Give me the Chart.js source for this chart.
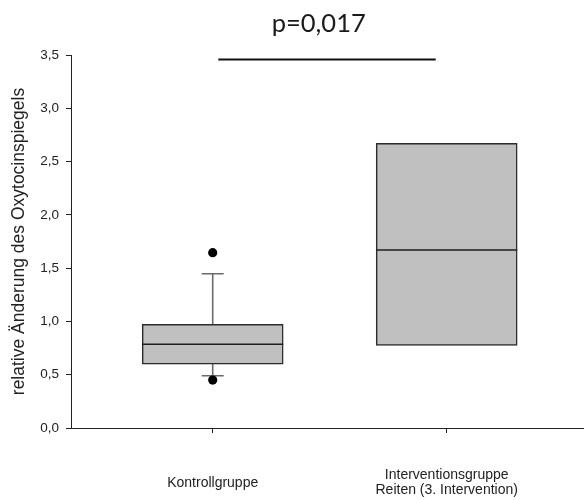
<!DOCTYPE html>
<html lang="de">
<head>
<meta charset="utf-8">
<title>Relative Änderung des Oxytocinspiegels</title>
<script src="https://cdn.jsdelivr.net/npm/chart.js@4/dist/chart.umd.min.js"></script>
<style>
  html, body { margin: 0; padding: 0; background: #ffffff; }
  #wrap { width: 584px; height: 500px; }
</style>
</head>
<body>
<div id="wrap"><canvas id="c" width="584" height="500"></canvas></div>
<script>
// Groups on the x axis (one entry per box, multi-line labels as arrays)
const groups = ['Kontrollgruppe', ['Interventionsgruppe', 'Reiten (3. Intervention)']];
const groupPositions = [1, 2];

// Box plot statistics per group
const lowerQuartile = [0.60, 0.776];
const medianValue   = [0.785, 1.67];
const upperQuartile = [0.973, 2.671];
const whiskerLow    = [0.49, null];
const whiskerHigh   = [1.448, null];
const outlierValues = [[0.45, 1.645], []];

// Y axis ticks
const yTicks = [0, 0.5, 1.0, 1.5, 2.0, 2.5, 3.0, 3.5];

// Significance bracket between the two groups
const sigFrom = 1.024;
const sigTo = 1.953;
const sigLevel = 3.458;
const sigLabelX = 1.453;
const pLabel = 'p=0,017';

const boxData = groupPositions.map((pos, i) => ({ x: pos, y: [lowerQuartile[i], upperQuartile[i]] }));
const outlierData = [];
outlierValues.forEach((vals, i) => vals.forEach(v => outlierData.push({ x: groupPositions[i], y: v })));
const sigData = [{ x: sigFrom, y: sigLevel }, { x: sigTo, y: sigLevel }];

const fmt = v => v.toFixed(1).replace('.', ',');

// Whiskers, caps, medians and the p-value text
const boxDecor = {
  id: 'boxDecor',
  beforeDatasetsDraw(chart) {
    const { ctx, scales: { x, y } } = chart;
    ctx.save();
    ctx.strokeStyle = '#6b6b6b';
    ctx.lineWidth = 1.6;
    groupPositions.forEach((pos, i) => {
      const px = x.getPixelForValue(pos);
      [[whiskerLow[i], lowerQuartile[i]], [whiskerHigh[i], upperQuartile[i]]].forEach(([w, edge]) => {
        if (w === null) return;
        const wy = y.getPixelForValue(w);
        const ey = y.getPixelForValue(edge);
        ctx.beginPath();
        ctx.moveTo(px, ey);
        ctx.lineTo(px, wy);
        ctx.moveTo(px - 11, wy);
        ctx.lineTo(px + 11, wy);
        ctx.stroke();
      });
    });
    ctx.restore();
  },
  afterDatasetsDraw(chart) {
    const { ctx, scales: { x, y } } = chart;
    const bars = chart.getDatasetMeta(0).data;
    ctx.save();
    ctx.strokeStyle = '#1e1e1e';
    ctx.lineWidth = 1.5;
    groupPositions.forEach((pos, i) => {
      const el = bars[i];
      const my = y.getPixelForValue(medianValue[i]);
      ctx.beginPath();
      ctx.moveTo(el.x - el.width / 2, my);
      ctx.lineTo(el.x + el.width / 2, my);
      ctx.stroke();
    });
    ctx.fillStyle = '#1a1a1a';
    ctx.font = '25.5px Lato, "Open Sans", sans-serif';
    ctx.textAlign = 'center';
    ctx.textBaseline = 'alphabetic';
    ctx.fillText(pLabel, x.getPixelForValue(sigLabelX), y.getPixelForValue(sigLevel) - 27.5);
    ctx.restore();
  }
};

new Chart(document.getElementById('c'), {
  type: 'bar',
  data: {
    datasets: [
      {
        type: 'bar',
        data: boxData,
        backgroundColor: '#c0c0c0',
        borderColor: '#2b2b2b',
        borderWidth: 1.5,
        borderSkipped: false,
        barThickness: 141,
        grouped: false,
        order: 3
      },
      {
        type: 'scatter',
        data: outlierData,
        backgroundColor: '#000000',
        borderWidth: 0,
        pointRadius: 4.6,
        order: 1
      },
      {
        type: 'line',
        data: sigData,
        borderColor: '#111111',
        borderWidth: 2,
        pointRadius: 0,
        fill: false,
        order: 2
      }
    ]
  },
  options: {
    responsive: false,
    devicePixelRatio: 1,
    animation: false,
    events: [],
    layout: { autoPadding: false, padding: { top: 55, right: 0, bottom: 0, left: 0 } },
    plugins: { legend: { display: false }, tooltip: { enabled: false }, title: { display: false } },
    scales: {
      x: {
        type: 'linear',
        offset: false,
        min: 0.39444,
        max: 2.58675,
        afterBuildTicks: scale => { scale.ticks = groupPositions.map(v => ({ value: v })); },
        afterFit: scale => {
          scale.height = 72;
          scale.paddingLeft = 0;
          scale.paddingRight = 0;
        },
        grid: { display: true, offset: false, drawOnChartArea: false, drawTicks: true, tickLength: 5, color: '#222222', lineWidth: 1 },
        border: { display: true, color: '#222222', width: 1 },
        ticks: {
          autoSkip: false,
          maxRotation: 0,
          minRotation: 0,
          padding: 42,
          crossAlign: 'center',
          color: '#222222',
          font: { family: '"Liberation Sans", Arial, sans-serif', size: 14, lineHeight: 1.1 },
          callback: (value, index) => groups[index]
        }
      },
      y: {
        type: 'linear',
        min: 0,
        max: 3.5,
        afterBuildTicks: scale => { scale.ticks = yTicks.map(v => ({ value: v })); },
        afterFit: scale => { scale.width = 71; },
        grid: { display: true, drawOnChartArea: false, drawTicks: true, tickLength: 5, color: '#222222', lineWidth: 1 },
        border: { display: true, color: '#222222', width: 1 },
        ticks: {
          padding: 7,
          color: '#222222',
          font: { family: '"Liberation Sans", Arial, sans-serif', size: 13.5 },
          callback: v => fmt(v)
        },
        title: {
          display: true,
          text: 'relative Änderung des Oxytocinspiegels',
          color: '#222222',
          padding: { top: 8.5, bottom: 0 },
          font: { family: '"Liberation Sans", Arial, sans-serif', size: 17.5, lineHeight: 1.2 }
        }
      }
    }
  },
  plugins: [boxDecor]
});
</script>
</body>
</html>
